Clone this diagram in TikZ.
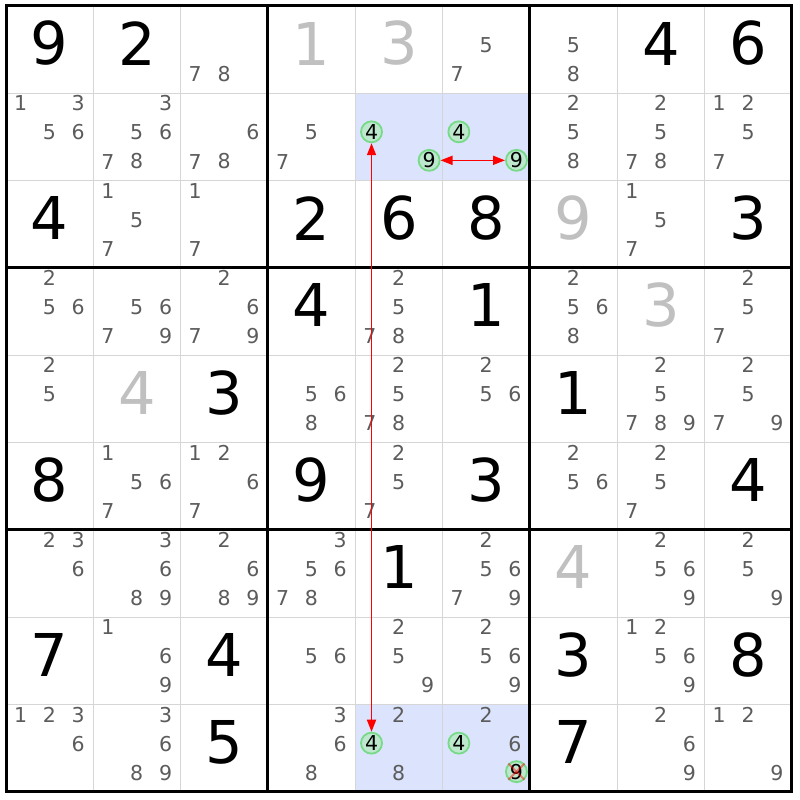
\documentclass[tikz,border=0pt]{standalone}
\usepackage{fontspec}
\setmainfont{DejaVu Sans}
\usepackage{tikz}
\usetikzlibrary{arrows.meta}

\definecolor{candGray}{RGB}{92,92,92}
\definecolor{placedGray}{RGB}{192,192,192}
\definecolor{cellBlue}{RGB}{219,228,252}
\definecolor{ringGreen}{RGB}{120,218,136}
\definecolor{ringFill}{RGB}{190,232,206}
\definecolor{gridGray}{RGB}{214,214,214}
\definecolor{linkRed}{RGB}{255,0,0}

\begin{document}
\begin{tikzpicture}[x=1pt,y=-1pt,
	givenbig/.style={inner sep=0pt,font=\fontsize{59}{59}\selectfont},
	placedbig/.style={givenbig,text=placedGray},
	cand/.style={inner sep=0pt,text=candGray,font=\fontsize{20.5}{20.5}\selectfont},
	linkcand/.style={circle,draw=ringGreen,fill=ringFill,line width=1.8pt,minimum size=21pt,inner sep=0pt,text=black,font=\fontsize{20.5}{20.5}\selectfont},
	strongLink/.style={draw=linkRed,line width=1.6pt,{Triangle[length=12pt,width=9pt,fill=linkRed]}-{Triangle[length=12pt,width=9pt,fill=linkRed]}},
	crossOut/.style={linkRed,opacity=.45,line width=2pt}]
	\newcommand{\cellSize}{87.33}
	\newcommand{\gridOrigin}{6}
	\newcommand{\subSize}{28.8}
	\newcommand{\givenDigit}[3]{\node[givenbig] (r#1c#2) at ({\gridOrigin+(#2-0.5)*\cellSize},{\gridOrigin+(#1-1)*\cellSize+37.5}) {#3};}
	\newcommand{\placedDigit}[3]{\node[placedbig] (r#1c#2) at ({\gridOrigin+(#2-0.5)*\cellSize},{\gridOrigin+(#1-1)*\cellSize+37.5}) {#3};}
	\newcommand{\candDigits}[3]{%
		\foreach \dg in {#3}{%
			\pgfmathtruncatemacro{\subCol}{mod(\dg-1,3)}%
			\pgfmathtruncatemacro{\subRow}{div(\dg-1,3)}%
			\node[cand] (r#1c#2n\dg) at ({\gridOrigin+(#2-1)*\cellSize+14.6+\subCol*\subSize},{\gridOrigin+(#1-1)*\cellSize+10+\subRow*29.1}) {\dg};
		}}
	\newcommand{\chainDigit}[3]{%
		\pgfmathtruncatemacro{\subCol}{mod(#3-1,3)}%
		\pgfmathtruncatemacro{\subRow}{div(#3-1,3)}%
		\node[linkcand] (r#1c#2n#3) at ({\gridOrigin+(#2-1)*\cellSize+16.2+\subCol*\subSize},{\gridOrigin+(#1-1)*\cellSize+10+\subRow*28.5}) {#3};}

	\fill[white] (0,0) rectangle (800,800);
	\useasboundingbox (0,0) rectangle (800,800);

	% highlighted cells
	\fill[cellBlue] ({\gridOrigin+4*\cellSize},{\gridOrigin+\cellSize}) rectangle ++({2*\cellSize},\cellSize);
	\fill[cellBlue] ({\gridOrigin+4*\cellSize},{\gridOrigin+8*\cellSize}) rectangle ++({2*\cellSize},\cellSize);

	% thin grid lines
	\foreach \k in {1,2,4,5,7,8}{
		\draw[gridGray,line width=1.6pt] ({\gridOrigin+\k*\cellSize},\gridOrigin) -- ++(0,{9*\cellSize});
		\draw[gridGray,line width=1.6pt] (\gridOrigin,{\gridOrigin+\k*\cellSize}) -- ++({9*\cellSize},0);
	}
	% box lines
	\foreach \k in {3,6}{
		\draw[line width=3pt] ({\gridOrigin+\k*\cellSize},\gridOrigin) -- ++(0,{9*\cellSize});
		\draw[line width=3pt] (\gridOrigin,{\gridOrigin+\k*\cellSize}) -- ++({9*\cellSize},0);
	}
	\draw[line width=3pt] (\gridOrigin,\gridOrigin) rectangle ++({9*\cellSize},{9*\cellSize});

	% givens
	\givenDigit{1}{1}{9} \givenDigit{1}{2}{2} \givenDigit{1}{8}{4} \givenDigit{1}{9}{6}
	\givenDigit{3}{1}{4} \givenDigit{3}{4}{2} \givenDigit{3}{5}{6} \givenDigit{3}{6}{8} \givenDigit{3}{9}{3}
	\givenDigit{4}{4}{4} \givenDigit{4}{6}{1}
	\givenDigit{5}{3}{3} \givenDigit{5}{7}{1}
	\givenDigit{6}{1}{8} \givenDigit{6}{4}{9} \givenDigit{6}{6}{3} \givenDigit{6}{9}{4}
	\givenDigit{7}{5}{1}
	\givenDigit{8}{1}{7} \givenDigit{8}{3}{4} \givenDigit{8}{7}{3} \givenDigit{8}{9}{8}
	\givenDigit{9}{3}{5} \givenDigit{9}{7}{7}

	% solved cells
	\placedDigit{1}{4}{1} \placedDigit{1}{5}{3} \placedDigit{3}{7}{9}
	\placedDigit{4}{8}{3} \placedDigit{5}{2}{4} \placedDigit{7}{7}{4}

	% candidates
	\candDigits{1}{3}{7,8} \candDigits{1}{6}{5,7} \candDigits{1}{7}{5,8}
	\candDigits{2}{1}{1,3,5,6} \candDigits{2}{2}{3,5,6,7,8} \candDigits{2}{3}{6,7,8} \candDigits{2}{4}{5,7}
	\candDigits{2}{7}{2,5,8} \candDigits{2}{8}{2,5,7,8} \candDigits{2}{9}{1,2,5,7}
	\candDigits{3}{2}{1,5,7} \candDigits{3}{3}{1,7} \candDigits{3}{8}{1,5,7}
	\candDigits{4}{1}{2,5,6} \candDigits{4}{2}{5,6,7,9} \candDigits{4}{3}{2,6,7,9} \candDigits{4}{5}{2,5,7,8}
	\candDigits{4}{7}{2,5,6,8} \candDigits{4}{9}{2,5,7}
	\candDigits{5}{1}{2,5} \candDigits{5}{4}{5,6,8} \candDigits{5}{5}{2,5,7,8} \candDigits{5}{6}{2,5,6}
	\candDigits{5}{8}{2,5,7,8,9} \candDigits{5}{9}{2,5,7,9}
	\candDigits{6}{2}{1,5,6,7} \candDigits{6}{3}{1,2,6,7} \candDigits{6}{5}{2,5,7} \candDigits{6}{7}{2,5,6} \candDigits{6}{8}{2,5,7}
	\candDigits{7}{1}{2,3,6} \candDigits{7}{2}{3,6,8,9} \candDigits{7}{3}{2,6,8,9} \candDigits{7}{4}{3,5,6,7,8}
	\candDigits{7}{6}{2,5,6,7,9} \candDigits{7}{8}{2,5,6,9} \candDigits{7}{9}{2,5,9}
	\candDigits{8}{2}{1,6,9} \candDigits{8}{4}{5,6} \candDigits{8}{5}{2,5,9} \candDigits{8}{6}{2,5,6,9} \candDigits{8}{8}{1,2,5,6,9}
	\candDigits{9}{1}{1,2,3,6} \candDigits{9}{2}{3,6,8,9} \candDigits{9}{4}{3,6,8} \candDigits{9}{5}{2,8}
	\candDigits{9}{6}{2,6} \candDigits{9}{8}{2,6,9} \candDigits{9}{9}{1,2,9}

	% chain candidates
	\chainDigit{2}{5}{4} \chainDigit{2}{5}{9}
	\chainDigit{2}{6}{4} \chainDigit{2}{6}{9}
	\chainDigit{9}{5}{4}
	\chainDigit{9}{6}{4} \chainDigit{9}{6}{9}

	% links
	\draw[strongLink] (r2c5n4) -- (r9c5n4);
	\draw[strongLink] (r2c5n9) -- (r2c6n9);

	% eliminated candidate
	\draw[crossOut] (r9c6n9.north west) -- (r9c6n9.south east);
	\draw[crossOut] (r9c6n9.north east) -- (r9c6n9.south west);
\end{tikzpicture}
\end{document}
